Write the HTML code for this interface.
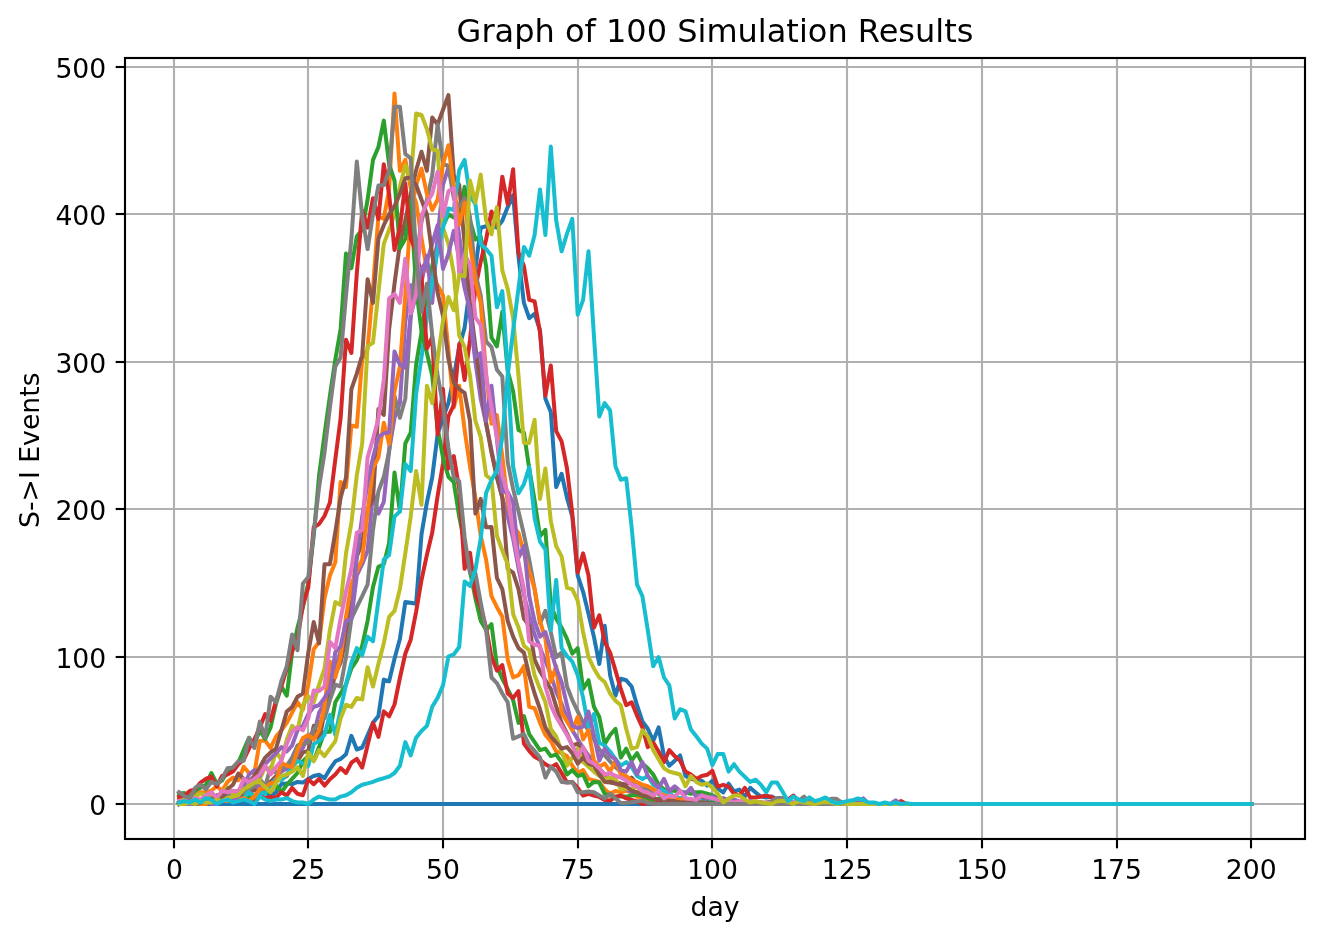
<!DOCTYPE html>
<html lang="en"><head><meta charset="utf-8"><title>Graph of 100 Simulation Results</title>
<style>html,body{margin:0;padding:0;background:#fff;}svg{display:block;}text{font-family:"DejaVu Sans", "Liberation Sans", sans-serif;fill:#000;}</style></head><body>
<svg width="1324" height="940" viewBox="0 0 1324 940">
<rect x="0" y="0" width="1324" height="940" fill="#ffffff"/>
<g stroke="#b0b0b0" stroke-width="2.13" fill="none"><line x1="174.00" y1="58.00" x2="174.00" y2="839.00"/><line x1="308.00" y1="58.00" x2="308.00" y2="839.00"/><line x1="443.00" y1="58.00" x2="443.00" y2="839.00"/><line x1="578.00" y1="58.00" x2="578.00" y2="839.00"/><line x1="712.00" y1="58.00" x2="712.00" y2="839.00"/><line x1="847.00" y1="58.00" x2="847.00" y2="839.00"/><line x1="982.00" y1="58.00" x2="982.00" y2="839.00"/><line x1="1117.00" y1="58.00" x2="1117.00" y2="839.00"/><line x1="1251.00" y1="58.00" x2="1251.00" y2="839.00"/><line x1="125.00" y1="804.00" x2="1305.00" y2="804.00"/><line x1="125.00" y1="657.00" x2="1305.00" y2="657.00"/><line x1="125.00" y1="509.00" x2="1305.00" y2="509.00"/><line x1="125.00" y1="362.00" x2="1305.00" y2="362.00"/><line x1="125.00" y1="214.00" x2="1305.00" y2="214.00"/><line x1="125.00" y1="67.00" x2="1305.00" y2="67.00"/></g>
<clipPath id="ax"><rect x="125.00" y="58.00" width="1180.00" height="781.00"/></clipPath>
<g clip-path="url(#ax)" fill="none" stroke-width="4.00" stroke-linejoin="round" stroke-linecap="square">
<polyline stroke="#1f77b4" points="179.0,804.0 184.4,801.1 189.8,802.5 195.2,802.5 200.5,802.5 205.9,798.1 211.3,799.6 216.7,801.1 222.1,804.0 227.5,798.1 232.9,801.1 238.3,795.2 243.7,796.6 249.0,799.6 254.4,796.6 259.8,792.2 265.2,792.2 270.6,796.6 276.0,792.2 281.4,784.1 286.8,783.4 292.1,784.1 297.5,781.9 302.9,782.6 308.3,778.9 313.7,776.0 319.1,774.8 324.5,778.2 329.9,769.1 335.3,761.3 340.6,758.9 346.0,754.3 351.4,735.8 356.8,749.5 362.2,747.5 367.6,735.2 373.0,722.8 378.4,715.9 383.8,679.6 389.1,681.4 394.5,658.8 399.9,638.9 405.3,602.1 410.7,602.8 416.1,603.8 421.5,534.3 426.9,502.4 432.2,477.5 437.6,434.5 443.0,417.8 448.4,403.1 453.8,376.6 459.2,347.1 464.6,327.9 470.0,285.2 475.4,269.0 480.7,227.7 486.1,226.2 491.5,225.3 496.9,227.7 502.3,220.8 507.7,207.1 513.1,195.3 518.5,256.4 523.9,302.9 529.2,318.2 534.6,313.8 540.0,330.1 545.4,398.7 550.8,411.9 556.2,487.1 561.6,473.8 567.0,497.9 572.3,516.6 577.7,575.5 583.1,591.8 588.5,613.9 593.9,636.7 599.3,664.0 604.7,625.7 610.1,675.2 615.5,695.7 620.8,678.7 626.2,680.2 631.6,686.5 637.0,705.2 642.4,721.5 647.8,728.8 653.2,741.1 658.6,727.4 664.0,756.1 669.3,765.7 674.7,760.7 680.1,755.4 685.5,776.0 690.9,778.9 696.3,780.4 701.7,780.7 707.1,785.6 712.4,780.7 717.8,788.5 723.2,792.5 728.6,783.7 734.0,791.5 739.4,789.6 744.8,796.6 750.2,787.8 755.6,792.5 760.9,796.6 766.3,797.4 771.7,796.6 777.1,799.6 782.5,801.1 787.9,801.1 793.3,802.5 798.7,802.5 804.1,802.5 809.4,804.0 814.8,804.0 820.2,804.0 825.6,804.0 831.0,802.5 836.4,804.0 841.8,804.0 847.2,804.0 852.6,804.0 857.9,802.5 863.3,804.0 868.7,804.0 874.1,804.0 879.5,804.0 884.9,804.0 890.3,804.0 895.7,804.0 901.0,804.0 906.4,804.0 911.8,804.0 917.2,804.0 922.6,804.0 928.0,804.0 933.4,804.0 938.8,804.0 944.2,804.0 949.5,804.0 954.9,804.0 960.3,804.0 965.7,804.0 971.1,804.0 976.5,804.0 981.9,804.0 987.3,804.0 992.7,804.0 998.0,804.0 1003.4,804.0 1008.8,804.0 1014.2,804.0 1019.6,804.0 1025.0,804.0 1030.4,804.0 1035.8,804.0 1041.1,804.0 1046.5,804.0 1051.9,804.0 1057.3,804.0 1062.7,804.0 1068.1,804.0 1073.5,804.0 1078.9,804.0 1084.3,804.0 1089.6,804.0 1095.0,804.0 1100.4,804.0 1105.8,804.0 1111.2,804.0 1116.6,804.0 1122.0,804.0 1127.4,804.0 1132.8,804.0 1138.1,804.0 1143.5,804.0 1148.9,804.0 1154.3,804.0 1159.7,804.0 1165.1,804.0 1170.5,804.0 1175.9,804.0 1181.2,804.0 1186.6,804.0 1192.0,804.0 1197.4,804.0 1202.8,804.0 1208.2,804.0 1213.6,804.0 1219.0,804.0 1224.4,804.0 1229.7,804.0 1235.1,804.0 1240.5,804.0 1245.9,804.0 1251.3,804.0"/>
<polyline stroke="#ff7f0e" points="179.0,802.5 184.4,799.6 189.8,796.6 195.2,795.2 200.5,792.2 205.9,792.2 211.3,790.7 216.7,786.3 222.1,790.7 227.5,781.9 232.9,777.5 238.3,780.4 243.7,766.7 249.0,773.0 254.4,773.0 259.8,741.1 265.2,740.6 270.6,748.0 276.0,736.5 281.4,730.3 286.8,722.9 292.1,712.6 297.5,702.3 302.9,709.7 308.3,684.6 313.7,649.2 319.1,641.9 324.5,598.2 329.9,575.5 335.3,562.3 340.6,482.0 346.0,487.1 351.4,425.4 356.8,426.7 362.2,359.6 367.6,348.6 373.0,288.1 378.4,216.2 383.8,218.9 389.1,189.4 394.5,93.6 399.9,170.8 405.3,159.9 410.7,187.9 416.1,202.6 421.5,238.0 426.9,270.4 432.2,276.3 437.6,285.2 443.0,295.5 448.4,350.0 453.8,407.5 459.2,385.7 464.6,429.9 470.0,466.5 475.4,497.9 480.7,535.8 486.1,559.6 491.5,596.2 496.9,607.2 502.3,616.8 507.7,659.6 513.1,677.5 518.5,675.2 523.9,666.2 529.2,706.9 534.6,708.2 540.0,722.9 545.4,735.0 550.8,741.1 556.2,751.5 561.6,753.2 567.0,756.1 572.3,765.7 577.7,773.0 583.1,770.1 588.5,778.9 593.9,780.4 599.3,781.9 604.7,789.3 610.1,793.8 615.5,790.9 620.8,792.4 626.2,790.9 631.6,792.4 637.0,796.9 642.4,798.1 647.8,799.6 653.2,801.1 658.6,801.1 664.0,802.5 669.3,802.5 674.7,804.0 680.1,802.5 685.5,802.5 690.9,802.5 696.3,804.0 701.7,802.5 707.1,802.5 712.4,802.5 717.8,802.5 723.2,804.0 728.6,804.0 734.0,804.0 739.4,804.0 744.8,804.0 750.2,804.0 755.6,804.0 760.9,804.0 766.3,804.0 771.7,804.0 777.1,804.0 782.5,804.0 787.9,804.0 793.3,804.0 798.7,804.0 804.1,804.0 809.4,804.0 814.8,804.0 820.2,804.0 825.6,804.0 831.0,804.0 836.4,804.0 841.8,804.0 847.2,804.0 852.6,804.0 857.9,804.0 863.3,804.0 868.7,804.0 874.1,804.0 879.5,804.0 884.9,804.0 890.3,804.0 895.7,804.0 901.0,804.0 906.4,804.0 911.8,804.0 917.2,804.0 922.6,804.0 928.0,804.0 933.4,804.0 938.8,804.0 944.2,804.0 949.5,804.0 954.9,804.0 960.3,804.0 965.7,804.0 971.1,804.0 976.5,804.0 981.9,804.0 987.3,804.0 992.7,804.0 998.0,804.0 1003.4,804.0 1008.8,804.0 1014.2,804.0 1019.6,804.0 1025.0,804.0 1030.4,804.0 1035.8,804.0 1041.1,804.0 1046.5,804.0 1051.9,804.0 1057.3,804.0 1062.7,804.0 1068.1,804.0 1073.5,804.0 1078.9,804.0 1084.3,804.0 1089.6,804.0 1095.0,804.0 1100.4,804.0 1105.8,804.0 1111.2,804.0 1116.6,804.0 1122.0,804.0 1127.4,804.0 1132.8,804.0 1138.1,804.0 1143.5,804.0 1148.9,804.0 1154.3,804.0 1159.7,804.0 1165.1,804.0 1170.5,804.0 1175.9,804.0 1181.2,804.0 1186.6,804.0 1192.0,804.0 1197.4,804.0 1202.8,804.0 1208.2,804.0 1213.6,804.0 1219.0,804.0 1224.4,804.0 1229.7,804.0 1235.1,804.0 1240.5,804.0 1245.9,804.0 1251.3,804.0"/>
<polyline stroke="#2ca02c" points="179.0,804.0 184.4,801.1 189.8,802.5 195.2,798.1 200.5,801.1 205.9,801.1 211.3,802.5 216.7,801.1 222.1,802.5 227.5,799.6 232.9,801.1 238.3,799.6 243.7,802.5 249.0,796.6 254.4,795.2 259.8,796.6 265.2,792.2 270.6,792.2 276.0,784.8 281.4,792.2 286.8,784.8 292.1,778.9 297.5,773.0 302.9,761.3 308.3,756.1 313.7,760.7 319.1,747.1 324.5,731.9 329.9,731.8 335.3,702.3 340.6,693.5 346.0,684.6 351.4,668.4 356.8,660.4 362.2,645.7 367.6,620.8 373.0,586.9 378.4,566.7 383.8,564.2 389.1,543.1 394.5,472.4 399.9,511.4 405.3,443.5 410.7,432.6 416.1,364.8 421.5,332.4 426.9,295.5 432.2,266.0 437.6,243.9 443.0,226.2 448.4,214.4 453.8,217.4 459.2,214.4 464.6,186.9 470.0,220.3 475.4,239.5 480.7,236.5 486.1,266.0 491.5,337.5 496.9,346.4 502.3,311.7 507.7,370.7 513.1,391.3 518.5,429.9 523.9,432.6 529.2,468.4 534.6,500.4 540.0,536.3 545.4,529.9 550.8,605.0 556.2,618.6 561.6,627.6 567.0,638.9 572.3,653.7 577.7,648.1 583.1,689.0 588.5,680.2 593.9,706.7 599.3,717.0 604.7,744.0 610.1,735.0 615.5,728.8 620.8,757.6 626.2,748.6 631.6,760.7 637.0,753.2 642.4,763.6 647.8,768.2 653.2,774.5 658.6,784.8 664.0,789.3 669.3,790.7 674.7,790.7 680.1,792.2 685.5,792.2 690.9,793.7 696.3,792.2 701.7,792.2 707.1,793.7 712.4,795.2 717.8,798.1 723.2,799.6 728.6,799.6 734.0,801.1 739.4,802.5 744.8,802.5 750.2,804.0 755.6,802.5 760.9,802.5 766.3,804.0 771.7,804.0 777.1,802.5 782.5,804.0 787.9,804.0 793.3,804.0 798.7,804.0 804.1,804.0 809.4,804.0 814.8,804.0 820.2,804.0 825.6,804.0 831.0,804.0 836.4,804.0 841.8,804.0 847.2,804.0 852.6,804.0 857.9,804.0 863.3,804.0 868.7,804.0 874.1,804.0 879.5,804.0 884.9,804.0 890.3,804.0 895.7,804.0 901.0,804.0 906.4,804.0 911.8,804.0 917.2,804.0 922.6,804.0 928.0,804.0 933.4,804.0 938.8,804.0 944.2,804.0 949.5,804.0 954.9,804.0 960.3,804.0 965.7,804.0 971.1,804.0 976.5,804.0 981.9,804.0 987.3,804.0 992.7,804.0 998.0,804.0 1003.4,804.0 1008.8,804.0 1014.2,804.0 1019.6,804.0 1025.0,804.0 1030.4,804.0 1035.8,804.0 1041.1,804.0 1046.5,804.0 1051.9,804.0 1057.3,804.0 1062.7,804.0 1068.1,804.0 1073.5,804.0 1078.9,804.0 1084.3,804.0 1089.6,804.0 1095.0,804.0 1100.4,804.0 1105.8,804.0 1111.2,804.0 1116.6,804.0 1122.0,804.0 1127.4,804.0 1132.8,804.0 1138.1,804.0 1143.5,804.0 1148.9,804.0 1154.3,804.0 1159.7,804.0 1165.1,804.0 1170.5,804.0 1175.9,804.0 1181.2,804.0 1186.6,804.0 1192.0,804.0 1197.4,804.0 1202.8,804.0 1208.2,804.0 1213.6,804.0 1219.0,804.0 1224.4,804.0 1229.7,804.0 1235.1,804.0 1240.5,804.0 1245.9,804.0 1251.3,804.0"/>
<polyline stroke="#d62728" points="179.0,804.0 184.4,804.0 189.8,802.5 195.2,804.0 200.5,802.5 205.9,802.5 211.3,804.0 216.7,802.5 222.1,802.5 227.5,802.5 232.9,801.1 238.3,802.5 243.7,799.6 249.0,802.5 254.4,799.6 259.8,793.7 265.2,798.4 270.6,796.9 276.0,797.7 281.4,792.2 286.8,795.5 292.1,787.8 297.5,793.8 302.9,795.2 308.3,779.2 313.7,784.2 319.1,778.9 324.5,785.6 329.9,779.2 335.3,774.5 340.6,768.0 346.0,773.0 351.4,762.7 356.8,758.9 362.2,767.6 367.6,745.3 373.0,722.9 378.4,736.9 383.8,711.4 389.1,716.3 394.5,704.5 399.9,678.0 405.3,653.7 410.7,639.7 416.1,611.8 421.5,580.0 426.9,554.9 432.2,532.8 437.6,496.0 443.0,463.5 448.4,416.4 453.8,405.0 459.2,344.1 464.6,380.1 470.0,339.7 475.4,288.1 480.7,261.6 486.1,239.5 491.5,211.5 496.9,224.8 502.3,176.7 507.7,204.1 513.1,169.2 518.5,252.8 523.9,266.0 529.2,299.9 534.6,301.4 540.0,332.4 545.4,395.7 550.8,365.4 556.2,431.1 561.6,441.4 567.0,468.4 572.3,513.6 577.7,572.6 583.1,553.4 588.5,575.5 593.9,627.6 599.3,615.3 604.7,641.9 610.1,652.6 615.5,670.6 620.8,689.0 626.2,705.2 631.6,702.3 637.0,715.6 642.4,727.4 647.8,747.1 653.2,742.5 658.6,751.5 664.0,762.1 669.3,750.1 674.7,756.1 680.1,760.7 685.5,771.6 690.9,774.5 696.3,778.9 701.7,776.0 707.1,774.8 712.4,770.8 717.8,786.6 723.2,784.8 728.6,786.6 734.0,793.7 739.4,795.5 744.8,787.8 750.2,797.4 755.6,797.4 760.9,796.6 766.3,795.5 771.7,797.4 777.1,799.6 782.5,799.6 787.9,799.6 793.3,795.5 798.7,801.1 804.1,801.1 809.4,802.5 814.8,802.5 820.2,802.5 825.6,804.0 831.0,802.5 836.4,804.0 841.8,804.0 847.2,804.0 852.6,804.0 857.9,804.0 863.3,804.0 868.7,804.0 874.1,804.0 879.5,804.0 884.9,804.0 890.3,804.0 895.7,804.0 901.0,801.1 906.4,804.0 911.8,804.0 917.2,804.0 922.6,804.0 928.0,804.0 933.4,804.0 938.8,804.0 944.2,804.0 949.5,804.0 954.9,804.0 960.3,804.0 965.7,804.0 971.1,804.0 976.5,804.0 981.9,804.0 987.3,804.0 992.7,804.0 998.0,804.0 1003.4,804.0 1008.8,804.0 1014.2,804.0 1019.6,804.0 1025.0,804.0 1030.4,804.0 1035.8,804.0 1041.1,804.0 1046.5,804.0 1051.9,804.0 1057.3,804.0 1062.7,804.0 1068.1,804.0 1073.5,804.0 1078.9,804.0 1084.3,804.0 1089.6,804.0 1095.0,804.0 1100.4,804.0 1105.8,804.0 1111.2,804.0 1116.6,804.0 1122.0,804.0 1127.4,804.0 1132.8,804.0 1138.1,804.0 1143.5,804.0 1148.9,804.0 1154.3,804.0 1159.7,804.0 1165.1,804.0 1170.5,804.0 1175.9,804.0 1181.2,804.0 1186.6,804.0 1192.0,804.0 1197.4,804.0 1202.8,804.0 1208.2,804.0 1213.6,804.0 1219.0,804.0 1224.4,804.0 1229.7,804.0 1235.1,804.0 1240.5,804.0 1245.9,804.0 1251.3,804.0"/>
<polyline stroke="#9467bd" points="179.0,804.0 184.4,802.5 189.8,801.1 195.2,802.5 200.5,801.1 205.9,801.1 211.3,799.6 216.7,801.1 222.1,799.6 227.5,792.2 232.9,798.1 238.3,793.7 243.7,789.3 249.0,790.7 254.4,789.3 259.8,784.8 265.2,786.3 270.6,781.9 276.0,777.5 281.4,771.6 286.8,768.6 292.1,762.7 297.5,753.9 302.9,748.0 308.3,734.7 313.7,734.7 319.1,712.6 324.5,703.8 329.9,686.1 335.3,668.4 340.6,650.7 346.0,627.1 351.4,618.6 356.8,575.5 362.2,564.2 367.6,550.5 373.0,493.0 378.4,513.6 383.8,501.9 389.1,450.3 394.5,417.8 399.9,403.1 405.3,322.0 410.7,285.2 416.1,291.1 421.5,282.2 426.9,255.7 432.2,302.9 437.6,236.5 443.0,185.0 448.4,167.3 453.8,192.3 459.2,236.5 464.6,273.4 470.0,317.6 475.4,361.8 480.7,398.7 486.1,423.7 491.5,450.3 496.9,476.8 502.3,497.4 507.7,516.6 513.1,538.7 518.5,568.2 523.9,594.7 529.2,615.3 534.6,634.5 540.0,647.8 545.4,661.0 550.8,674.3 556.2,692.0 561.6,703.8 567.0,718.5 572.3,730.3 577.7,739.1 583.1,748.0 588.5,755.4 593.9,762.7 599.3,768.6 604.7,774.5 610.1,778.9 615.5,783.4 620.8,786.3 626.2,789.3 631.6,792.2 637.0,793.7 642.4,795.2 647.8,796.6 653.2,798.1 658.6,799.6 664.0,799.6 669.3,801.1 674.7,801.1 680.1,802.5 685.5,802.5 690.9,804.0 696.3,802.5 701.7,802.5 707.1,802.5 712.4,802.5 717.8,802.5 723.2,804.0 728.6,804.0 734.0,804.0 739.4,804.0 744.8,804.0 750.2,804.0 755.6,804.0 760.9,802.5 766.3,804.0 771.7,804.0 777.1,804.0 782.5,804.0 787.9,804.0 793.3,804.0 798.7,804.0 804.1,804.0 809.4,804.0 814.8,804.0 820.2,804.0 825.6,804.0 831.0,804.0 836.4,804.0 841.8,804.0 847.2,804.0 852.6,804.0 857.9,804.0 863.3,804.0 868.7,804.0 874.1,804.0 879.5,804.0 884.9,804.0 890.3,804.0 895.7,804.0 901.0,804.0 906.4,804.0 911.8,804.0 917.2,804.0 922.6,804.0 928.0,804.0 933.4,804.0 938.8,804.0 944.2,804.0 949.5,804.0 954.9,804.0 960.3,804.0 965.7,804.0 971.1,804.0 976.5,804.0 981.9,804.0 987.3,804.0 992.7,804.0 998.0,804.0 1003.4,804.0 1008.8,804.0 1014.2,804.0 1019.6,804.0 1025.0,804.0 1030.4,804.0 1035.8,804.0 1041.1,804.0 1046.5,804.0 1051.9,804.0 1057.3,804.0 1062.7,804.0 1068.1,804.0 1073.5,804.0 1078.9,804.0 1084.3,804.0 1089.6,804.0 1095.0,804.0 1100.4,804.0 1105.8,804.0 1111.2,804.0 1116.6,804.0 1122.0,804.0 1127.4,804.0 1132.8,804.0 1138.1,804.0 1143.5,804.0 1148.9,804.0 1154.3,804.0 1159.7,804.0 1165.1,804.0 1170.5,804.0 1175.9,804.0 1181.2,804.0 1186.6,804.0 1192.0,804.0 1197.4,804.0 1202.8,804.0 1208.2,804.0 1213.6,804.0 1219.0,804.0 1224.4,804.0 1229.7,804.0 1235.1,804.0 1240.5,804.0 1245.9,804.0 1251.3,804.0"/>
<polyline stroke="#8c564b" points="179.0,804.0 184.4,801.1 189.8,802.5 195.2,801.1 200.5,804.0 205.9,804.0 211.3,802.5 216.7,799.6 222.1,799.6 227.5,796.6 232.9,799.6 238.3,793.7 243.7,795.2 249.0,793.7 254.4,789.3 259.8,795.2 265.2,786.3 270.6,781.9 276.0,776.0 281.4,778.9 286.8,776.0 292.1,765.7 297.5,761.3 302.9,752.4 308.3,750.9 313.7,725.9 319.1,740.6 324.5,712.6 329.9,694.9 335.3,674.3 340.6,662.5 346.0,637.4 351.4,597.7 356.8,556.4 362.2,543.1 367.6,509.2 373.0,498.9 378.4,409.0 383.8,414.9 389.1,329.4 394.5,283.7 399.9,243.9 405.3,220.3 410.7,193.8 416.1,170.2 421.5,151.7 426.9,170.8 432.2,117.6 437.6,124.5 443.0,109.8 448.4,95.1 453.8,175.4 459.2,185.0 464.6,243.9 470.0,302.9 475.4,347.1 480.7,383.9 486.1,423.1 491.5,452.6 496.9,477.5 502.3,497.4 507.7,568.8 513.1,572.6 518.5,589.1 523.9,618.6 529.2,625.7 534.6,659.6 540.0,671.3 545.4,680.2 550.8,689.0 556.2,706.7 561.6,722.9 567.0,733.3 572.3,745.5 577.7,743.6 583.1,753.9 588.5,759.8 593.9,764.2 599.3,771.6 604.7,777.5 610.1,780.4 615.5,781.9 620.8,783.4 626.2,784.8 631.6,777.5 637.0,784.8 642.4,792.2 647.8,796.6 653.2,798.1 658.6,799.6 664.0,798.1 669.3,799.6 674.7,800.3 680.1,801.1 685.5,799.6 690.9,800.3 696.3,801.1 701.7,799.6 707.1,798.8 712.4,801.1 717.8,802.5 723.2,804.0 728.6,804.0 734.0,802.5 739.4,802.5 744.8,804.0 750.2,802.5 755.6,804.0 760.9,804.0 766.3,804.0 771.7,802.5 777.1,804.0 782.5,804.0 787.9,804.0 793.3,804.0 798.7,804.0 804.1,804.0 809.4,804.0 814.8,804.0 820.2,804.0 825.6,804.0 831.0,804.0 836.4,804.0 841.8,804.0 847.2,804.0 852.6,804.0 857.9,804.0 863.3,804.0 868.7,804.0 874.1,804.0 879.5,804.0 884.9,804.0 890.3,804.0 895.7,804.0 901.0,804.0 906.4,804.0 911.8,804.0 917.2,804.0 922.6,804.0 928.0,804.0 933.4,804.0 938.8,804.0 944.2,804.0 949.5,804.0 954.9,804.0 960.3,804.0 965.7,804.0 971.1,804.0 976.5,804.0 981.9,804.0 987.3,804.0 992.7,804.0 998.0,804.0 1003.4,804.0 1008.8,804.0 1014.2,804.0 1019.6,804.0 1025.0,804.0 1030.4,804.0 1035.8,804.0 1041.1,804.0 1046.5,804.0 1051.9,804.0 1057.3,804.0 1062.7,804.0 1068.1,804.0 1073.5,804.0 1078.9,804.0 1084.3,804.0 1089.6,804.0 1095.0,804.0 1100.4,804.0 1105.8,804.0 1111.2,804.0 1116.6,804.0 1122.0,804.0 1127.4,804.0 1132.8,804.0 1138.1,804.0 1143.5,804.0 1148.9,804.0 1154.3,804.0 1159.7,804.0 1165.1,804.0 1170.5,804.0 1175.9,804.0 1181.2,804.0 1186.6,804.0 1192.0,804.0 1197.4,804.0 1202.8,804.0 1208.2,804.0 1213.6,804.0 1219.0,804.0 1224.4,804.0 1229.7,804.0 1235.1,804.0 1240.5,804.0 1245.9,804.0 1251.3,804.0"/>
<polyline stroke="#7f7f7f" points="179.0,801.1 184.4,802.5 189.8,801.1 195.2,802.5 200.5,801.1 205.9,795.2 211.3,796.6 216.7,799.6 222.1,798.1 227.5,796.6 232.9,792.2 238.3,790.7 243.7,792.2 249.0,789.3 254.4,786.3 259.8,778.9 265.2,786.3 270.6,767.2 276.0,773.0 281.4,768.6 286.8,765.7 292.1,757.6 297.5,745.5 302.9,744.0 308.3,742.5 313.7,729.6 319.1,722.9 324.5,718.5 329.9,700.1 335.3,684.6 340.6,686.5 346.0,657.1 351.4,618.6 356.8,607.2 362.2,596.2 367.6,584.5 373.0,529.9 378.4,491.5 383.8,476.8 389.1,451.7 394.5,395.7 399.9,417.8 405.3,398.7 410.7,317.6 416.1,258.7 421.5,221.8 426.9,199.7 432.2,175.4 437.6,124.5 443.0,164.3 448.4,165.8 453.8,198.2 459.2,207.1 464.6,198.2 470.0,217.4 475.4,273.4 480.7,295.5 486.1,341.5 491.5,347.1 496.9,369.8 502.3,376.6 507.7,462.1 513.1,488.9 518.5,511.4 523.9,534.3 529.2,559.6 534.6,589.1 540.0,623.2 545.4,610.9 550.8,632.1 556.2,657.1 561.6,652.6 567.0,686.5 572.3,700.1 577.7,711.4 583.1,722.9 588.5,730.3 593.9,739.1 599.3,749.5 604.7,755.4 610.1,761.3 615.5,767.2 620.8,771.6 626.2,777.5 631.6,780.4 637.0,784.8 642.4,787.8 647.8,789.3 653.2,792.2 658.6,793.7 664.0,796.6 669.3,796.6 674.7,798.1 680.1,799.6 685.5,799.6 690.9,801.1 696.3,801.1 701.7,802.5 707.1,801.1 712.4,802.5 717.8,802.5 723.2,804.0 728.6,802.5 734.0,804.0 739.4,804.0 744.8,802.5 750.2,804.0 755.6,804.0 760.9,804.0 766.3,802.5 771.7,801.1 777.1,798.1 782.5,798.1 787.9,802.5 793.3,804.0 798.7,801.1 804.1,796.6 809.4,802.5 814.8,804.0 820.2,804.0 825.6,802.5 831.0,798.8 836.4,798.8 841.8,802.5 847.2,804.0 852.6,804.0 857.9,804.0 863.3,804.0 868.7,804.0 874.1,804.0 879.5,804.0 884.9,804.0 890.3,804.0 895.7,804.0 901.0,804.0 906.4,804.0 911.8,804.0 917.2,804.0 922.6,804.0 928.0,804.0 933.4,804.0 938.8,804.0 944.2,804.0 949.5,804.0 954.9,804.0 960.3,804.0 965.7,804.0 971.1,804.0 976.5,804.0 981.9,804.0 987.3,804.0 992.7,804.0 998.0,804.0 1003.4,804.0 1008.8,804.0 1014.2,804.0 1019.6,804.0 1025.0,804.0 1030.4,804.0 1035.8,804.0 1041.1,804.0 1046.5,804.0 1051.9,804.0 1057.3,804.0 1062.7,804.0 1068.1,804.0 1073.5,804.0 1078.9,804.0 1084.3,804.0 1089.6,804.0 1095.0,804.0 1100.4,804.0 1105.8,804.0 1111.2,804.0 1116.6,804.0 1122.0,804.0 1127.4,804.0 1132.8,804.0 1138.1,804.0 1143.5,804.0 1148.9,804.0 1154.3,804.0 1159.7,804.0 1165.1,804.0 1170.5,804.0 1175.9,804.0 1181.2,804.0 1186.6,804.0 1192.0,804.0 1197.4,804.0 1202.8,804.0 1208.2,804.0 1213.6,804.0 1219.0,804.0 1224.4,804.0 1229.7,804.0 1235.1,804.0 1240.5,804.0 1245.9,804.0 1251.3,804.0"/>
<polyline stroke="#bcbd22" points="179.0,799.6 184.4,798.1 189.8,799.6 195.2,796.6 200.5,793.7 205.9,795.2 211.3,793.7 216.7,799.6 222.1,792.2 227.5,787.8 232.9,793.7 238.3,792.2 243.7,784.8 249.0,786.3 254.4,780.4 259.8,778.9 265.2,767.2 270.6,770.1 276.0,751.5 281.4,759.8 286.8,739.4 292.1,725.9 297.5,730.3 302.9,705.2 308.3,696.4 313.7,702.3 319.1,684.6 324.5,668.4 329.9,630.1 335.3,602.1 340.6,605.0 346.0,553.4 351.4,522.8 356.8,475.3 362.2,443.5 367.6,346.1 373.0,342.7 378.4,292.6 383.8,243.9 389.1,229.8 394.5,214.4 399.9,186.7 405.3,165.2 410.7,180.0 416.1,113.5 421.5,115.0 426.9,129.0 432.2,149.6 437.6,150.5 443.0,227.7 448.4,243.9 453.8,273.4 459.2,335.3 464.6,347.1 470.0,375.5 475.4,420.8 480.7,437.0 486.1,475.3 491.5,479.7 496.9,535.8 502.3,550.5 507.7,564.2 513.1,613.9 518.5,627.6 523.9,645.7 529.2,650.3 534.6,675.2 540.0,689.0 545.4,702.3 550.8,728.8 556.2,736.5 561.6,751.5 567.0,765.7 572.3,757.6 577.7,748.6 583.1,762.1 588.5,766.7 593.9,771.6 599.3,776.0 604.7,778.9 610.1,777.5 615.5,778.9 620.8,789.3 626.2,788.5 631.6,789.3 637.0,786.3 642.4,792.4 647.8,796.9 653.2,798.1 658.6,799.6 664.0,801.1 669.3,801.1 674.7,802.5 680.1,804.0 685.5,804.0 690.9,804.0 696.3,802.5 701.7,802.5 707.1,804.0 712.4,804.0 717.8,804.0 723.2,802.5 728.6,804.0 734.0,804.0 739.4,804.0 744.8,802.5 750.2,802.5 755.6,804.0 760.9,804.0 766.3,804.0 771.7,804.0 777.1,804.0 782.5,804.0 787.9,804.0 793.3,804.0 798.7,804.0 804.1,804.0 809.4,804.0 814.8,804.0 820.2,804.0 825.6,804.0 831.0,804.0 836.4,804.0 841.8,804.0 847.2,804.0 852.6,804.0 857.9,804.0 863.3,804.0 868.7,804.0 874.1,804.0 879.5,804.0 884.9,804.0 890.3,804.0 895.7,804.0 901.0,804.0 906.4,804.0 911.8,804.0 917.2,804.0 922.6,804.0 928.0,804.0 933.4,804.0 938.8,804.0 944.2,804.0 949.5,804.0 954.9,804.0 960.3,804.0 965.7,804.0 971.1,804.0 976.5,804.0 981.9,804.0 987.3,804.0 992.7,804.0 998.0,804.0 1003.4,804.0 1008.8,804.0 1014.2,804.0 1019.6,804.0 1025.0,804.0 1030.4,804.0 1035.8,804.0 1041.1,804.0 1046.5,804.0 1051.9,804.0 1057.3,804.0 1062.7,804.0 1068.1,804.0 1073.5,804.0 1078.9,804.0 1084.3,804.0 1089.6,804.0 1095.0,804.0 1100.4,804.0 1105.8,804.0 1111.2,804.0 1116.6,804.0 1122.0,804.0 1127.4,804.0 1132.8,804.0 1138.1,804.0 1143.5,804.0 1148.9,804.0 1154.3,804.0 1159.7,804.0 1165.1,804.0 1170.5,804.0 1175.9,804.0 1181.2,804.0 1186.6,804.0 1192.0,804.0 1197.4,804.0 1202.8,804.0 1208.2,804.0 1213.6,804.0 1219.0,804.0 1224.4,804.0 1229.7,804.0 1235.1,804.0 1240.5,804.0 1245.9,804.0 1251.3,804.0"/>
<polyline stroke="#17becf" points="179.0,804.0 184.4,804.0 189.8,804.0 195.2,801.1 200.5,801.1 205.9,801.1 211.3,802.5 216.7,802.5 222.1,799.6 227.5,799.6 232.9,801.1 238.3,802.5 243.7,798.1 249.0,792.2 254.4,796.9 259.8,792.2 265.2,793.7 270.6,784.8 276.0,778.9 281.4,780.4 286.8,774.5 292.1,767.2 297.5,760.7 302.9,763.6 308.3,765.7 313.7,744.0 319.1,741.1 324.5,734.7 329.9,714.8 335.3,734.7 340.6,709.7 346.0,684.6 351.4,662.8 356.8,648.1 362.2,655.1 367.6,636.7 373.0,641.3 378.4,600.6 383.8,559.6 389.1,554.9 394.5,516.6 399.9,511.4 405.3,464.0 410.7,470.9 416.1,394.3 421.5,357.4 426.9,317.6 432.2,280.8 437.6,251.3 443.0,227.7 448.4,208.5 453.8,210.0 459.2,170.2 464.6,159.9 470.0,195.9 475.4,204.1 480.7,243.9 486.1,249.1 491.5,255.7 496.9,307.3 502.3,291.1 507.7,369.2 513.1,466.5 518.5,493.3 523.9,484.2 529.2,467.2 534.6,518.1 540.0,541.6 545.4,549.5 550.8,630.1 556.2,580.0 561.6,648.1 567.0,656.0 572.3,661.6 577.7,675.2 583.1,697.9 588.5,727.4 593.9,714.1 599.3,742.5 604.7,745.5 610.1,751.5 615.5,759.2 620.8,765.7 626.2,762.1 631.6,766.7 637.0,776.0 642.4,778.9 647.8,776.0 653.2,784.8 658.6,787.8 664.0,790.9 669.3,793.8 674.7,796.6 680.1,798.1 685.5,798.1 690.9,799.6 696.3,801.1 701.7,801.1 707.1,802.5 712.4,802.5 717.8,804.0 723.2,804.0 728.6,801.1 734.0,802.5 739.4,802.5 744.8,802.5 750.2,804.0 755.6,802.5 760.9,804.0 766.3,804.0 771.7,804.0 777.1,804.0 782.5,804.0 787.9,804.0 793.3,804.0 798.7,804.0 804.1,804.0 809.4,804.0 814.8,804.0 820.2,804.0 825.6,804.0 831.0,804.0 836.4,804.0 841.8,804.0 847.2,804.0 852.6,804.0 857.9,804.0 863.3,804.0 868.7,804.0 874.1,804.0 879.5,804.0 884.9,804.0 890.3,804.0 895.7,804.0 901.0,804.0 906.4,804.0 911.8,804.0 917.2,804.0 922.6,804.0 928.0,804.0 933.4,804.0 938.8,804.0 944.2,804.0 949.5,804.0 954.9,804.0 960.3,804.0 965.7,804.0 971.1,804.0 976.5,804.0 981.9,804.0 987.3,804.0 992.7,804.0 998.0,804.0 1003.4,804.0 1008.8,804.0 1014.2,804.0 1019.6,804.0 1025.0,804.0 1030.4,804.0 1035.8,804.0 1041.1,804.0 1046.5,804.0 1051.9,804.0 1057.3,804.0 1062.7,804.0 1068.1,804.0 1073.5,804.0 1078.9,804.0 1084.3,804.0 1089.6,804.0 1095.0,804.0 1100.4,804.0 1105.8,804.0 1111.2,804.0 1116.6,804.0 1122.0,804.0 1127.4,804.0 1132.8,804.0 1138.1,804.0 1143.5,804.0 1148.9,804.0 1154.3,804.0 1159.7,804.0 1165.1,804.0 1170.5,804.0 1175.9,804.0 1181.2,804.0 1186.6,804.0 1192.0,804.0 1197.4,804.0 1202.8,804.0 1208.2,804.0 1213.6,804.0 1219.0,804.0 1224.4,804.0 1229.7,804.0 1235.1,804.0 1240.5,804.0 1245.9,804.0 1251.3,804.0"/>
<polyline stroke="#1f77b4" points="179.0,804.0 184.4,804.0 189.8,804.0 195.2,804.0 200.5,804.0 205.9,804.0 211.3,804.0 216.7,804.0 222.1,804.0 227.5,804.0 232.9,804.0 238.3,804.0 243.7,804.0 249.0,804.0 254.4,804.0 259.8,804.0 265.2,804.0 270.6,804.0 276.0,804.0 281.4,804.0 286.8,804.0 292.1,804.0 297.5,804.0 302.9,804.0 308.3,804.0 313.7,804.0 319.1,804.0 324.5,804.0 329.9,804.0 335.3,804.0 340.6,804.0 346.0,804.0 351.4,804.0 356.8,804.0 362.2,804.0 367.6,804.0 373.0,804.0 378.4,804.0 383.8,804.0 389.1,804.0 394.5,804.0 399.9,804.0 405.3,804.0 410.7,804.0 416.1,804.0 421.5,804.0 426.9,804.0 432.2,804.0 437.6,804.0 443.0,804.0 448.4,804.0 453.8,804.0 459.2,804.0 464.6,804.0 470.0,804.0 475.4,804.0 480.7,804.0 486.1,804.0 491.5,804.0 496.9,804.0 502.3,804.0 507.7,804.0 513.1,804.0 518.5,804.0 523.9,804.0 529.2,804.0 534.6,804.0 540.0,804.0 545.4,804.0 550.8,804.0 556.2,804.0 561.6,804.0 567.0,804.0 572.3,804.0 577.7,804.0 583.1,804.0 588.5,804.0 593.9,804.0 599.3,804.0 604.7,804.0 610.1,804.0 615.5,804.0 620.8,804.0 626.2,804.0 631.6,804.0 637.0,804.0 642.4,804.0 647.8,804.0 653.2,804.0 658.6,804.0 664.0,804.0 669.3,804.0 674.7,804.0 680.1,804.0 685.5,804.0 690.9,804.0 696.3,804.0 701.7,804.0 707.1,804.0 712.4,804.0 717.8,804.0 723.2,804.0 728.6,804.0 734.0,804.0 739.4,804.0 744.8,804.0 750.2,804.0 755.6,804.0 760.9,804.0 766.3,804.0 771.7,804.0 777.1,804.0 782.5,804.0 787.9,804.0 793.3,804.0 798.7,804.0 804.1,804.0 809.4,804.0 814.8,804.0 820.2,804.0 825.6,804.0 831.0,804.0 836.4,804.0 841.8,804.0 847.2,804.0 852.6,804.0 857.9,804.0 863.3,804.0 868.7,804.0 874.1,804.0 879.5,804.0 884.9,804.0 890.3,804.0 895.7,804.0 901.0,804.0 906.4,804.0 911.8,804.0 917.2,804.0 922.6,804.0 928.0,804.0 933.4,804.0 938.8,804.0 944.2,804.0 949.5,804.0 954.9,804.0 960.3,804.0 965.7,804.0 971.1,804.0 976.5,804.0 981.9,804.0 987.3,804.0 992.7,804.0 998.0,804.0 1003.4,804.0 1008.8,804.0 1014.2,804.0 1019.6,804.0 1025.0,804.0 1030.4,804.0 1035.8,804.0 1041.1,804.0 1046.5,804.0 1051.9,804.0 1057.3,804.0 1062.7,804.0 1068.1,804.0 1073.5,804.0 1078.9,804.0 1084.3,804.0 1089.6,804.0 1095.0,804.0 1100.4,804.0 1105.8,804.0 1111.2,804.0 1116.6,804.0 1122.0,804.0 1127.4,804.0 1132.8,804.0 1138.1,804.0 1143.5,804.0 1148.9,804.0 1154.3,804.0 1159.7,804.0 1165.1,804.0 1170.5,804.0 1175.9,804.0 1181.2,804.0 1186.6,804.0 1192.0,804.0 1197.4,804.0 1202.8,804.0 1208.2,804.0 1213.6,804.0 1219.0,804.0 1224.4,804.0 1229.7,804.0 1235.1,804.0 1240.5,804.0 1245.9,804.0 1251.3,804.0"/>
<polyline stroke="#ff7f0e" points="179.0,801.1 184.4,802.5 189.8,804.0 195.2,802.5 200.5,804.0 205.9,804.0 211.3,801.1 216.7,801.1 222.1,801.1 227.5,801.1 232.9,796.6 238.3,799.6 243.7,798.1 249.0,801.1 254.4,796.6 259.8,789.3 265.2,787.8 270.6,783.4 276.0,781.9 281.4,762.7 286.8,765.7 292.1,767.2 297.5,750.1 302.9,738.0 308.3,735.0 313.7,739.4 319.1,730.3 324.5,706.7 329.9,661.6 335.3,677.5 340.6,657.1 346.0,616.8 351.4,584.4 356.8,571.1 362.2,559.6 367.6,512.2 373.0,468.0 378.4,457.6 383.8,422.8 389.1,443.9 394.5,391.3 399.9,366.4 405.3,295.5 410.7,214.4 416.1,185.0 421.5,168.7 426.9,193.8 432.2,210.0 437.6,199.7 443.0,164.3 448.4,145.2 453.8,186.7 459.2,224.8 464.6,202.6 470.0,243.9 475.4,280.8 480.7,302.9 486.1,373.6 491.5,423.7 496.9,415.2 502.3,456.2 507.7,502.4 513.1,526.9 518.5,532.8 523.9,553.4 529.2,571.1 534.6,588.8 540.0,621.2 545.4,638.9 550.8,682.0 556.2,666.2 561.6,712.6 567.0,721.5 572.3,730.3 577.7,717.0 583.1,739.4 588.5,730.3 593.9,760.7 599.3,766.7 604.7,763.6 610.1,771.6 615.5,760.7 620.8,774.5 626.2,776.0 631.6,780.4 637.0,781.9 642.4,784.8 647.8,786.3 653.2,789.3 658.6,792.4 664.0,795.2 669.3,796.6 674.7,798.1 680.1,799.6 685.5,799.6 690.9,801.1 696.3,802.5 701.7,802.5 707.1,804.0 712.4,804.0 717.8,802.5 723.2,804.0 728.6,802.5 734.0,804.0 739.4,804.0 744.8,804.0 750.2,804.0 755.6,804.0 760.9,804.0 766.3,804.0 771.7,804.0 777.1,804.0 782.5,804.0 787.9,804.0 793.3,804.0 798.7,804.0 804.1,804.0 809.4,804.0 814.8,804.0 820.2,804.0 825.6,804.0 831.0,804.0 836.4,804.0 841.8,804.0 847.2,804.0 852.6,804.0 857.9,804.0 863.3,804.0 868.7,804.0 874.1,804.0 879.5,804.0 884.9,804.0 890.3,804.0 895.7,804.0 901.0,804.0 906.4,804.0 911.8,804.0 917.2,804.0 922.6,804.0 928.0,804.0 933.4,804.0 938.8,804.0 944.2,804.0 949.5,804.0 954.9,804.0 960.3,804.0 965.7,804.0 971.1,804.0 976.5,804.0 981.9,804.0 987.3,804.0 992.7,804.0 998.0,804.0 1003.4,804.0 1008.8,804.0 1014.2,804.0 1019.6,804.0 1025.0,804.0 1030.4,804.0 1035.8,804.0 1041.1,804.0 1046.5,804.0 1051.9,804.0 1057.3,804.0 1062.7,804.0 1068.1,804.0 1073.5,804.0 1078.9,804.0 1084.3,804.0 1089.6,804.0 1095.0,804.0 1100.4,804.0 1105.8,804.0 1111.2,804.0 1116.6,804.0 1122.0,804.0 1127.4,804.0 1132.8,804.0 1138.1,804.0 1143.5,804.0 1148.9,804.0 1154.3,804.0 1159.7,804.0 1165.1,804.0 1170.5,804.0 1175.9,804.0 1181.2,804.0 1186.6,804.0 1192.0,804.0 1197.4,804.0 1202.8,804.0 1208.2,804.0 1213.6,804.0 1219.0,804.0 1224.4,804.0 1229.7,804.0 1235.1,804.0 1240.5,804.0 1245.9,804.0 1251.3,804.0"/>
<polyline stroke="#2ca02c" points="179.0,793.7 184.4,793.1 189.8,796.6 195.2,790.7 200.5,787.8 205.9,784.8 211.3,773.0 216.7,783.4 222.1,780.4 227.5,771.6 232.9,768.6 238.3,762.7 243.7,750.1 249.0,737.7 254.4,744.0 259.8,730.3 265.2,739.1 270.6,727.4 276.0,703.8 281.4,686.5 286.8,695.7 292.1,652.6 297.5,627.6 302.9,607.2 308.3,582.9 313.7,535.8 319.1,475.3 324.5,434.5 329.9,395.7 335.3,359.6 340.6,329.4 346.0,253.5 351.4,268.2 356.8,236.5 362.2,229.8 367.6,199.7 373.0,159.9 378.4,147.1 383.8,120.6 389.1,164.3 394.5,180.5 399.9,248.3 405.3,238.8 410.7,200.3 416.1,288.1 421.5,330.9 426.9,353.0 432.2,375.5 437.6,428.2 443.0,457.6 448.4,476.8 453.8,482.2 459.2,516.6 464.6,543.1 470.0,571.1 475.4,598.2 480.7,620.8 486.1,630.1 491.5,624.2 496.9,666.2 502.3,678.7 507.7,689.0 513.1,700.1 518.5,722.9 523.9,716.0 529.2,734.1 534.6,742.1 540.0,750.1 545.4,748.6 550.8,756.1 556.2,754.6 561.6,762.1 567.0,774.5 572.3,770.1 577.7,776.0 583.1,774.5 588.5,786.3 593.9,781.9 599.3,782.6 604.7,793.8 610.1,795.5 615.5,796.6 620.8,796.6 626.2,796.6 631.6,795.5 637.0,794.6 642.4,796.2 647.8,798.4 653.2,799.9 658.6,798.4 664.0,801.1 669.3,801.1 674.7,802.5 680.1,802.5 685.5,804.0 690.9,802.5 696.3,804.0 701.7,802.5 707.1,804.0 712.4,802.5 717.8,804.0 723.2,804.0 728.6,802.5 734.0,804.0 739.4,802.5 744.8,804.0 750.2,804.0 755.6,804.0 760.9,804.0 766.3,804.0 771.7,804.0 777.1,804.0 782.5,804.0 787.9,804.0 793.3,804.0 798.7,804.0 804.1,804.0 809.4,804.0 814.8,804.0 820.2,804.0 825.6,804.0 831.0,804.0 836.4,804.0 841.8,804.0 847.2,804.0 852.6,804.0 857.9,804.0 863.3,804.0 868.7,804.0 874.1,804.0 879.5,804.0 884.9,804.0 890.3,804.0 895.7,804.0 901.0,804.0 906.4,804.0 911.8,804.0 917.2,804.0 922.6,804.0 928.0,804.0 933.4,804.0 938.8,804.0 944.2,804.0 949.5,804.0 954.9,804.0 960.3,804.0 965.7,804.0 971.1,804.0 976.5,804.0 981.9,804.0 987.3,804.0 992.7,804.0 998.0,804.0 1003.4,804.0 1008.8,804.0 1014.2,804.0 1019.6,804.0 1025.0,804.0 1030.4,804.0 1035.8,804.0 1041.1,804.0 1046.5,804.0 1051.9,804.0 1057.3,804.0 1062.7,804.0 1068.1,804.0 1073.5,804.0 1078.9,804.0 1084.3,804.0 1089.6,804.0 1095.0,804.0 1100.4,804.0 1105.8,804.0 1111.2,804.0 1116.6,804.0 1122.0,804.0 1127.4,804.0 1132.8,804.0 1138.1,804.0 1143.5,804.0 1148.9,804.0 1154.3,804.0 1159.7,804.0 1165.1,804.0 1170.5,804.0 1175.9,804.0 1181.2,804.0 1186.6,804.0 1192.0,804.0 1197.4,804.0 1202.8,804.0 1208.2,804.0 1213.6,804.0 1219.0,804.0 1224.4,804.0 1229.7,804.0 1235.1,804.0 1240.5,804.0 1245.9,804.0 1251.3,804.0"/>
<polyline stroke="#d62728" points="179.0,796.9 184.4,795.5 189.8,790.9 195.2,789.3 200.5,782.6 205.9,778.9 211.3,776.6 216.7,786.3 222.1,776.0 227.5,774.5 232.9,771.6 238.3,764.2 243.7,759.8 249.0,748.6 254.4,739.4 259.8,727.4 265.2,714.1 270.6,720.6 276.0,700.8 281.4,686.1 286.8,668.4 292.1,650.7 297.5,638.9 302.9,605.0 308.3,587.3 313.7,527.3 319.1,524.0 324.5,516.0 329.9,502.4 335.3,459.4 340.6,418.6 346.0,339.7 351.4,353.0 356.8,273.4 362.2,210.5 367.6,227.7 373.0,198.2 378.4,218.9 383.8,164.3 389.1,193.8 394.5,250.1 399.9,227.7 405.3,183.5 410.7,238.8 416.1,251.3 421.5,276.3 426.9,348.6 432.2,337.1 437.6,434.5 443.0,389.1 448.4,468.4 453.8,456.2 459.2,488.9 464.6,568.8 470.0,552.8 475.4,593.7 480.7,607.2 486.1,627.6 491.5,657.1 496.9,670.6 502.3,665.0 507.7,693.5 513.1,697.9 518.5,691.1 523.9,743.6 529.2,750.9 534.6,756.8 540.0,759.8 545.4,764.2 550.8,767.2 556.2,764.2 561.6,773.0 567.0,782.6 572.3,781.9 577.7,787.8 583.1,795.5 588.5,793.8 593.9,795.5 599.3,796.9 604.7,799.9 610.1,800.6 615.5,796.9 620.8,795.5 626.2,798.4 631.6,799.9 637.0,801.5 642.4,804.0 647.8,803.0 653.2,804.0 658.6,802.5 664.0,804.0 669.3,802.5 674.7,804.0 680.1,804.0 685.5,802.5 690.9,804.0 696.3,802.5 701.7,804.0 707.1,804.0 712.4,804.0 717.8,804.0 723.2,804.0 728.6,804.0 734.0,804.0 739.4,804.0 744.8,804.0 750.2,804.0 755.6,804.0 760.9,804.0 766.3,804.0 771.7,804.0 777.1,804.0 782.5,804.0 787.9,804.0 793.3,804.0 798.7,804.0 804.1,804.0 809.4,804.0 814.8,804.0 820.2,804.0 825.6,804.0 831.0,804.0 836.4,804.0 841.8,804.0 847.2,804.0 852.6,804.0 857.9,804.0 863.3,804.0 868.7,804.0 874.1,804.0 879.5,804.0 884.9,804.0 890.3,804.0 895.7,804.0 901.0,804.0 906.4,804.0 911.8,804.0 917.2,804.0 922.6,804.0 928.0,804.0 933.4,804.0 938.8,804.0 944.2,804.0 949.5,804.0 954.9,804.0 960.3,804.0 965.7,804.0 971.1,804.0 976.5,804.0 981.9,804.0 987.3,804.0 992.7,804.0 998.0,804.0 1003.4,804.0 1008.8,804.0 1014.2,804.0 1019.6,804.0 1025.0,804.0 1030.4,804.0 1035.8,804.0 1041.1,804.0 1046.5,804.0 1051.9,804.0 1057.3,804.0 1062.7,804.0 1068.1,804.0 1073.5,804.0 1078.9,804.0 1084.3,804.0 1089.6,804.0 1095.0,804.0 1100.4,804.0 1105.8,804.0 1111.2,804.0 1116.6,804.0 1122.0,804.0 1127.4,804.0 1132.8,804.0 1138.1,804.0 1143.5,804.0 1148.9,804.0 1154.3,804.0 1159.7,804.0 1165.1,804.0 1170.5,804.0 1175.9,804.0 1181.2,804.0 1186.6,804.0 1192.0,804.0 1197.4,804.0 1202.8,804.0 1208.2,804.0 1213.6,804.0 1219.0,804.0 1224.4,804.0 1229.7,804.0 1235.1,804.0 1240.5,804.0 1245.9,804.0 1251.3,804.0"/>
<polyline stroke="#9467bd" points="179.0,802.5 184.4,804.0 189.8,804.0 195.2,801.1 200.5,802.5 205.9,799.6 211.3,804.0 216.7,804.0 222.1,801.1 227.5,799.6 232.9,799.6 238.3,796.6 243.7,786.3 249.0,774.5 254.4,770.1 259.8,776.0 265.2,764.2 270.6,758.3 276.0,753.2 281.4,747.1 286.8,751.5 292.1,745.5 297.5,730.3 302.9,725.9 308.3,714.1 313.7,706.7 319.1,705.2 324.5,697.9 329.9,689.0 335.3,652.2 340.6,646.3 346.0,621.2 351.4,618.3 356.8,556.4 362.2,516.6 367.6,482.7 373.0,457.6 378.4,437.0 383.8,433.3 389.1,432.6 394.5,351.5 399.9,364.8 405.3,367.7 410.7,314.7 416.1,295.5 421.5,268.2 426.9,261.6 432.2,243.9 437.6,225.2 443.0,269.0 448.4,254.2 453.8,230.7 459.2,258.7 464.6,288.1 470.0,310.2 475.4,357.4 480.7,353.0 486.1,420.8 491.5,385.7 496.9,438.9 502.3,491.5 507.7,492.3 513.1,502.4 518.5,557.9 523.9,546.1 529.2,596.2 534.6,621.2 540.0,636.7 545.4,632.1 550.8,650.3 556.2,668.4 561.6,682.0 567.0,705.2 572.3,725.9 577.7,728.1 583.1,726.6 588.5,711.6 593.9,735.0 599.3,760.7 604.7,748.6 610.1,756.1 615.5,759.2 620.8,770.1 626.2,771.6 631.6,762.1 637.0,774.5 642.4,762.1 647.8,776.0 653.2,781.9 658.6,787.8 664.0,778.9 669.3,790.9 674.7,786.3 680.1,790.9 685.5,793.8 690.9,787.8 696.3,796.9 701.7,795.2 707.1,798.1 712.4,796.6 717.8,799.6 723.2,798.1 728.6,801.1 734.0,799.6 739.4,801.1 744.8,802.5 750.2,801.1 755.6,802.5 760.9,802.5 766.3,804.0 771.7,804.0 777.1,804.0 782.5,804.0 787.9,802.5 793.3,804.0 798.7,804.0 804.1,804.0 809.4,804.0 814.8,804.0 820.2,804.0 825.6,804.0 831.0,804.0 836.4,804.0 841.8,804.0 847.2,804.0 852.6,802.5 857.9,804.0 863.3,798.4 868.7,804.0 874.1,804.0 879.5,804.0 884.9,804.0 890.3,804.0 895.7,800.3 901.0,804.0 906.4,804.0 911.8,804.0 917.2,804.0 922.6,804.0 928.0,804.0 933.4,804.0 938.8,804.0 944.2,804.0 949.5,804.0 954.9,804.0 960.3,804.0 965.7,804.0 971.1,804.0 976.5,804.0 981.9,804.0 987.3,804.0 992.7,804.0 998.0,804.0 1003.4,804.0 1008.8,804.0 1014.2,804.0 1019.6,804.0 1025.0,804.0 1030.4,804.0 1035.8,804.0 1041.1,804.0 1046.5,804.0 1051.9,804.0 1057.3,804.0 1062.7,804.0 1068.1,804.0 1073.5,804.0 1078.9,804.0 1084.3,804.0 1089.6,804.0 1095.0,804.0 1100.4,804.0 1105.8,804.0 1111.2,804.0 1116.6,804.0 1122.0,804.0 1127.4,804.0 1132.8,804.0 1138.1,804.0 1143.5,804.0 1148.9,804.0 1154.3,804.0 1159.7,804.0 1165.1,804.0 1170.5,804.0 1175.9,804.0 1181.2,804.0 1186.6,804.0 1192.0,804.0 1197.4,804.0 1202.8,804.0 1208.2,804.0 1213.6,804.0 1219.0,804.0 1224.4,804.0 1229.7,804.0 1235.1,804.0 1240.5,804.0 1245.9,804.0 1251.3,804.0"/>
<polyline stroke="#8c564b" points="179.0,802.5 184.4,804.0 189.8,801.1 195.2,802.5 200.5,802.5 205.9,801.1 211.3,799.6 216.7,795.2 222.1,798.1 227.5,789.3 232.9,784.8 238.3,773.5 243.7,778.9 249.0,781.9 254.4,776.0 259.8,767.2 265.2,757.6 270.6,752.4 276.0,748.6 281.4,730.3 286.8,711.4 292.1,706.9 297.5,696.7 302.9,693.5 308.3,652.6 313.7,622.0 319.1,643.3 324.5,564.2 329.9,564.2 335.3,532.1 340.6,497.9 346.0,477.5 351.4,389.1 356.8,373.6 362.2,355.2 367.6,279.3 373.0,302.9 378.4,238.8 383.8,225.2 389.1,214.4 394.5,206.0 399.9,193.8 405.3,178.3 410.7,177.6 416.1,185.0 421.5,199.7 426.9,214.4 432.2,254.2 437.6,292.6 443.0,316.1 448.4,358.9 453.8,382.5 459.2,389.1 464.6,392.8 470.0,420.8 475.4,513.6 480.7,498.9 486.1,527.3 491.5,526.9 496.9,577.8 502.3,589.1 507.7,620.8 513.1,636.7 518.5,648.1 523.9,652.6 529.2,675.2 534.6,693.5 540.0,709.2 545.4,727.4 550.8,736.2 556.2,742.5 561.6,748.6 567.0,747.1 572.3,753.2 577.7,763.6 583.1,757.6 588.5,763.6 593.9,765.7 599.3,774.5 604.7,781.9 610.1,782.6 615.5,783.4 620.8,784.8 626.2,786.3 631.6,790.7 637.0,792.2 642.4,795.2 647.8,796.6 653.2,798.1 658.6,799.6 664.0,799.6 669.3,801.1 674.7,801.1 680.1,802.5 685.5,802.5 690.9,804.0 696.3,802.5 701.7,802.5 707.1,802.5 712.4,804.0 717.8,804.0 723.2,802.5 728.6,804.0 734.0,802.5 739.4,804.0 744.8,804.0 750.2,804.0 755.6,802.5 760.9,804.0 766.3,804.0 771.7,804.0 777.1,802.5 782.5,802.5 787.9,804.0 793.3,804.0 798.7,804.0 804.1,804.0 809.4,804.0 814.8,804.0 820.2,804.0 825.6,804.0 831.0,804.0 836.4,804.0 841.8,804.0 847.2,804.0 852.6,804.0 857.9,804.0 863.3,804.0 868.7,804.0 874.1,804.0 879.5,804.0 884.9,804.0 890.3,804.0 895.7,804.0 901.0,804.0 906.4,804.0 911.8,804.0 917.2,804.0 922.6,804.0 928.0,804.0 933.4,804.0 938.8,804.0 944.2,804.0 949.5,804.0 954.9,804.0 960.3,804.0 965.7,804.0 971.1,804.0 976.5,804.0 981.9,804.0 987.3,804.0 992.7,804.0 998.0,804.0 1003.4,804.0 1008.8,804.0 1014.2,804.0 1019.6,804.0 1025.0,804.0 1030.4,804.0 1035.8,804.0 1041.1,804.0 1046.5,804.0 1051.9,804.0 1057.3,804.0 1062.7,804.0 1068.1,804.0 1073.5,804.0 1078.9,804.0 1084.3,804.0 1089.6,804.0 1095.0,804.0 1100.4,804.0 1105.8,804.0 1111.2,804.0 1116.6,804.0 1122.0,804.0 1127.4,804.0 1132.8,804.0 1138.1,804.0 1143.5,804.0 1148.9,804.0 1154.3,804.0 1159.7,804.0 1165.1,804.0 1170.5,804.0 1175.9,804.0 1181.2,804.0 1186.6,804.0 1192.0,804.0 1197.4,804.0 1202.8,804.0 1208.2,804.0 1213.6,804.0 1219.0,804.0 1224.4,804.0 1229.7,804.0 1235.1,804.0 1240.5,804.0 1245.9,804.0 1251.3,804.0"/>
<polyline stroke="#e377c2" points="179.0,801.1 184.4,801.1 189.8,801.1 195.2,798.1 200.5,799.6 205.9,795.2 211.3,792.2 216.7,798.1 222.1,790.7 227.5,792.2 232.9,790.7 238.3,792.2 243.7,778.9 249.0,781.9 254.4,778.9 259.8,774.5 265.2,765.7 270.6,774.5 276.0,767.2 281.4,760.7 286.8,744.0 292.1,731.8 297.5,727.4 302.9,730.3 308.3,718.5 313.7,690.5 319.1,691.1 324.5,686.5 329.9,641.9 335.3,648.1 340.6,618.6 346.0,591.8 351.4,568.8 356.8,532.8 362.2,529.9 367.6,457.6 373.0,438.9 378.4,418.6 383.8,380.1 389.1,298.5 394.5,294.0 399.9,302.9 405.3,258.7 410.7,313.2 416.1,294.0 421.5,216.2 426.9,202.6 432.2,193.8 437.6,171.7 443.0,216.2 448.4,191.3 453.8,187.9 459.2,273.4 464.6,254.2 470.0,264.6 475.4,317.6 480.7,325.0 486.1,375.5 491.5,407.5 496.9,437.0 502.3,475.3 507.7,493.3 513.1,532.8 518.5,562.3 523.9,589.1 529.2,641.3 534.6,644.8 540.0,645.7 545.4,686.5 550.8,705.2 556.2,717.0 561.6,725.9 567.0,735.0 572.3,745.5 577.7,756.1 583.1,747.1 588.5,760.7 593.9,763.6 599.3,768.2 604.7,774.5 610.1,773.0 615.5,776.0 620.8,777.5 626.2,780.4 631.6,784.8 637.0,786.3 642.4,790.9 647.8,792.4 653.2,795.5 658.6,790.9 664.0,798.4 669.3,795.5 674.7,796.9 680.1,790.9 685.5,798.4 690.9,799.1 696.3,799.9 701.7,795.5 707.1,796.9 712.4,798.4 717.8,799.9 723.2,800.6 728.6,801.1 734.0,802.5 739.4,801.1 744.8,802.5 750.2,804.0 755.6,804.0 760.9,802.5 766.3,802.5 771.7,804.0 777.1,804.0 782.5,804.0 787.9,804.0 793.3,802.5 798.7,804.0 804.1,804.0 809.4,804.0 814.8,804.0 820.2,804.0 825.6,804.0 831.0,804.0 836.4,804.0 841.8,804.0 847.2,804.0 852.6,804.0 857.9,804.0 863.3,804.0 868.7,804.0 874.1,804.0 879.5,804.0 884.9,804.0 890.3,804.0 895.7,804.0 901.0,804.0 906.4,804.0 911.8,804.0 917.2,804.0 922.6,804.0 928.0,804.0 933.4,804.0 938.8,804.0 944.2,804.0 949.5,804.0 954.9,804.0 960.3,804.0 965.7,804.0 971.1,804.0 976.5,804.0 981.9,804.0 987.3,804.0 992.7,804.0 998.0,804.0 1003.4,804.0 1008.8,804.0 1014.2,804.0 1019.6,804.0 1025.0,804.0 1030.4,804.0 1035.8,804.0 1041.1,804.0 1046.5,804.0 1051.9,804.0 1057.3,804.0 1062.7,804.0 1068.1,804.0 1073.5,804.0 1078.9,804.0 1084.3,804.0 1089.6,804.0 1095.0,804.0 1100.4,804.0 1105.8,804.0 1111.2,804.0 1116.6,804.0 1122.0,804.0 1127.4,804.0 1132.8,804.0 1138.1,804.0 1143.5,804.0 1148.9,804.0 1154.3,804.0 1159.7,804.0 1165.1,804.0 1170.5,804.0 1175.9,804.0 1181.2,804.0 1186.6,804.0 1192.0,804.0 1197.4,804.0 1202.8,804.0 1208.2,804.0 1213.6,804.0 1219.0,804.0 1224.4,804.0 1229.7,804.0 1235.1,804.0 1240.5,804.0 1245.9,804.0 1251.3,804.0"/>
<polyline stroke="#7f7f7f" points="179.0,792.2 184.4,796.2 189.8,798.4 195.2,787.8 200.5,784.8 205.9,789.3 211.3,781.9 216.7,784.1 222.1,778.9 227.5,768.2 232.9,767.4 238.3,761.3 243.7,760.7 249.0,738.0 254.4,748.0 259.8,721.6 265.2,737.7 270.6,696.7 276.0,702.3 281.4,680.9 286.8,666.2 292.1,634.5 297.5,650.3 302.9,583.5 308.3,577.0 313.7,533.5 319.1,487.1 324.5,452.6 329.9,407.5 335.3,366.4 340.6,357.4 346.0,295.5 351.4,238.8 356.8,161.4 362.2,216.2 367.6,249.1 373.0,214.4 378.4,185.6 383.8,185.0 389.1,170.8 394.5,106.8 399.9,106.8 405.3,154.0 410.7,158.4 416.1,255.7 421.5,311.7 426.9,283.7 432.2,335.3 437.6,375.1 443.0,405.0 448.4,448.1 453.8,477.5 459.2,481.2 464.6,537.2 470.0,573.2 475.4,573.2 480.7,602.7 486.1,630.1 491.5,677.5 496.9,683.1 502.3,693.5 507.7,702.3 513.1,738.7 518.5,736.3 523.9,734.1 529.2,745.0 534.6,750.9 540.0,757.6 545.4,777.5 550.8,766.7 556.2,771.6 561.6,781.9 567.0,782.6 572.3,781.9 577.7,792.2 583.1,792.2 588.5,791.6 593.9,792.2 599.3,795.5 604.7,798.4 610.1,793.8 615.5,798.4 620.8,803.0 626.2,803.0 631.6,802.2 637.0,801.5 642.4,800.6 647.8,803.0 653.2,803.7 658.6,804.0 664.0,804.0 669.3,804.0 674.7,804.0 680.1,804.0 685.5,804.0 690.9,804.0 696.3,804.0 701.7,804.0 707.1,804.0 712.4,804.0 717.8,804.0 723.2,804.0 728.6,804.0 734.0,804.0 739.4,804.0 744.8,804.0 750.2,804.0 755.6,804.0 760.9,804.0 766.3,804.0 771.7,804.0 777.1,804.0 782.5,804.0 787.9,804.0 793.3,804.0 798.7,804.0 804.1,804.0 809.4,804.0 814.8,804.0 820.2,804.0 825.6,804.0 831.0,804.0 836.4,804.0 841.8,804.0 847.2,804.0 852.6,804.0 857.9,804.0 863.3,804.0 868.7,804.0 874.1,804.0 879.5,804.0 884.9,804.0 890.3,804.0 895.7,804.0 901.0,804.0 906.4,804.0 911.8,804.0 917.2,804.0 922.6,804.0 928.0,804.0 933.4,804.0 938.8,804.0 944.2,804.0 949.5,804.0 954.9,804.0 960.3,804.0 965.7,804.0 971.1,804.0 976.5,804.0 981.9,804.0 987.3,804.0 992.7,804.0 998.0,804.0 1003.4,804.0 1008.8,804.0 1014.2,804.0 1019.6,804.0 1025.0,804.0 1030.4,804.0 1035.8,804.0 1041.1,804.0 1046.5,804.0 1051.9,804.0 1057.3,804.0 1062.7,804.0 1068.1,804.0 1073.5,804.0 1078.9,804.0 1084.3,804.0 1089.6,804.0 1095.0,804.0 1100.4,804.0 1105.8,804.0 1111.2,804.0 1116.6,804.0 1122.0,804.0 1127.4,804.0 1132.8,804.0 1138.1,804.0 1143.5,804.0 1148.9,804.0 1154.3,804.0 1159.7,804.0 1165.1,804.0 1170.5,804.0 1175.9,804.0 1181.2,804.0 1186.6,804.0 1192.0,804.0 1197.4,804.0 1202.8,804.0 1208.2,804.0 1213.6,804.0 1219.0,804.0 1224.4,804.0 1229.7,804.0 1235.1,804.0 1240.5,804.0 1245.9,804.0 1251.3,804.0"/>
<polyline stroke="#bcbd22" points="179.0,804.0 184.4,804.0 189.8,802.5 195.2,804.0 200.5,801.1 205.9,802.5 211.3,802.5 216.7,799.6 222.1,801.1 227.5,798.1 232.9,796.6 238.3,795.2 243.7,789.3 249.0,786.3 254.4,782.6 259.8,781.9 265.2,787.1 270.6,792.2 276.0,783.4 281.4,776.0 286.8,774.5 292.1,771.6 297.5,767.2 302.9,776.0 308.3,752.4 313.7,761.3 319.1,750.1 324.5,756.1 329.9,748.6 335.3,741.1 340.6,718.5 346.0,704.7 351.4,706.9 356.8,697.9 362.2,699.4 367.6,667.2 373.0,686.5 378.4,664.0 383.8,643.3 389.1,616.8 394.5,610.9 399.9,589.1 405.3,553.4 410.7,516.6 416.1,470.9 421.5,504.8 426.9,385.7 432.2,403.1 437.6,359.6 443.0,320.6 448.4,297.0 453.8,310.2 459.2,274.9 464.6,276.3 470.0,180.5 475.4,202.6 480.7,174.6 486.1,220.3 491.5,234.3 496.9,207.1 502.3,270.4 507.7,288.9 513.1,318.2 518.5,375.5 523.9,442.9 529.2,442.9 534.6,419.8 540.0,498.9 545.4,468.4 550.8,521.0 556.2,546.1 561.6,556.4 567.0,587.9 572.3,589.1 577.7,600.6 583.1,632.1 588.5,657.1 593.9,668.4 599.3,677.5 604.7,682.0 610.1,693.5 615.5,700.8 620.8,705.2 626.2,728.8 631.6,748.6 637.0,747.1 642.4,730.3 647.8,736.5 653.2,750.1 658.6,759.2 664.0,768.2 669.3,771.6 674.7,773.0 680.1,774.5 685.5,786.3 690.9,776.0 696.3,781.9 701.7,784.8 707.1,783.4 712.4,787.8 717.8,793.7 723.2,802.5 728.6,798.8 734.0,795.5 739.4,795.2 744.8,799.6 750.2,802.5 755.6,801.3 760.9,802.5 766.3,803.3 771.7,804.0 777.1,801.3 782.5,800.8 787.9,801.9 793.3,804.0 798.7,801.3 804.1,802.5 809.4,803.3 814.8,804.0 820.2,802.5 825.6,801.9 831.0,802.5 836.4,804.0 841.8,803.3 847.2,804.0 852.6,804.0 857.9,804.0 863.3,804.0 868.7,804.0 874.1,804.0 879.5,804.0 884.9,804.0 890.3,804.0 895.7,804.0 901.0,804.0 906.4,804.0 911.8,804.0 917.2,804.0 922.6,804.0 928.0,804.0 933.4,804.0 938.8,804.0 944.2,804.0 949.5,804.0 954.9,804.0 960.3,804.0 965.7,804.0 971.1,804.0 976.5,804.0 981.9,804.0 987.3,804.0 992.7,804.0 998.0,804.0 1003.4,804.0 1008.8,804.0 1014.2,804.0 1019.6,804.0 1025.0,804.0 1030.4,804.0 1035.8,804.0 1041.1,804.0 1046.5,804.0 1051.9,804.0 1057.3,804.0 1062.7,804.0 1068.1,804.0 1073.5,804.0 1078.9,804.0 1084.3,804.0 1089.6,804.0 1095.0,804.0 1100.4,804.0 1105.8,804.0 1111.2,804.0 1116.6,804.0 1122.0,804.0 1127.4,804.0 1132.8,804.0 1138.1,804.0 1143.5,804.0 1148.9,804.0 1154.3,804.0 1159.7,804.0 1165.1,804.0 1170.5,804.0 1175.9,804.0 1181.2,804.0 1186.6,804.0 1192.0,804.0 1197.4,804.0 1202.8,804.0 1208.2,804.0 1213.6,804.0 1219.0,804.0 1224.4,804.0 1229.7,804.0 1235.1,804.0 1240.5,804.0 1245.9,804.0 1251.3,804.0"/>
<polyline stroke="#17becf" points="179.0,802.5 184.4,801.1 189.8,802.5 195.2,799.6 200.5,802.5 205.9,798.1 211.3,799.6 216.7,804.0 222.1,801.1 227.5,799.6 232.9,802.5 238.3,801.1 243.7,799.6 249.0,801.1 254.4,804.0 259.8,796.6 265.2,799.6 270.6,801.1 276.0,799.6 281.4,799.6 286.8,798.1 292.1,801.1 297.5,802.5 302.9,802.5 308.3,804.0 313.7,799.6 319.1,796.6 324.5,798.1 329.9,799.6 335.3,799.6 340.6,796.6 346.0,795.2 351.4,792.2 356.8,787.8 362.2,784.8 367.6,783.4 373.0,781.9 378.4,779.7 383.8,778.2 389.1,776.6 394.5,773.0 399.9,765.7 405.3,742.1 410.7,755.4 416.1,737.7 421.5,731.0 426.9,725.9 432.2,706.7 437.6,697.9 443.0,685.4 448.4,656.6 453.8,654.4 459.2,647.0 464.6,581.4 470.0,585.9 475.4,569.6 480.7,538.7 486.1,493.0 491.5,479.7 496.9,470.9 502.3,437.0 507.7,375.1 513.1,330.9 518.5,288.1 523.9,246.9 529.2,255.7 534.6,235.1 540.0,189.4 545.4,235.1 550.8,146.6 556.2,220.3 561.6,251.3 567.0,233.6 572.3,218.9 577.7,314.7 583.1,299.9 588.5,251.3 593.9,335.3 599.3,416.4 604.7,403.1 610.1,410.5 615.5,466.5 620.8,479.7 626.2,478.3 631.6,526.9 637.0,584.4 642.4,596.2 647.8,630.1 653.2,666.2 658.6,657.1 664.0,677.5 669.3,685.4 674.7,718.5 680.1,709.2 685.5,711.4 690.9,729.6 696.3,736.3 701.7,743.6 707.1,748.6 712.4,765.1 717.8,753.9 723.2,753.9 728.6,771.6 734.0,764.2 739.4,771.6 744.8,776.7 750.2,781.9 755.6,779.7 760.9,784.8 766.3,792.2 771.7,782.6 777.1,782.6 782.5,791.5 787.9,801.1 793.3,796.6 798.7,799.6 804.1,801.1 809.4,797.4 814.8,801.1 820.2,799.6 825.6,797.4 831.0,801.1 836.4,803.3 841.8,802.5 847.2,801.1 852.6,800.3 857.9,798.4 863.3,800.0 868.7,802.5 874.1,802.5 879.5,804.0 884.9,802.5 890.3,804.0 895.7,802.5 901.0,804.0 906.4,803.3 911.8,804.0 917.2,804.0 922.6,804.0 928.0,804.0 933.4,804.0 938.8,804.0 944.2,804.0 949.5,804.0 954.9,804.0 960.3,804.0 965.7,804.0 971.1,804.0 976.5,804.0 981.9,804.0 987.3,804.0 992.7,804.0 998.0,804.0 1003.4,804.0 1008.8,804.0 1014.2,804.0 1019.6,804.0 1025.0,804.0 1030.4,804.0 1035.8,804.0 1041.1,804.0 1046.5,804.0 1051.9,804.0 1057.3,804.0 1062.7,804.0 1068.1,804.0 1073.5,804.0 1078.9,804.0 1084.3,804.0 1089.6,804.0 1095.0,804.0 1100.4,804.0 1105.8,804.0 1111.2,804.0 1116.6,804.0 1122.0,804.0 1127.4,804.0 1132.8,804.0 1138.1,804.0 1143.5,804.0 1148.9,804.0 1154.3,804.0 1159.7,804.0 1165.1,804.0 1170.5,804.0 1175.9,804.0 1181.2,804.0 1186.6,804.0 1192.0,804.0 1197.4,804.0 1202.8,804.0 1208.2,804.0 1213.6,804.0 1219.0,804.0 1224.4,804.0 1229.7,804.0 1235.1,804.0 1240.5,804.0 1245.9,804.0 1251.3,804.0"/>
</g>
<g stroke="#000" stroke-width="2.13"><line x1="174.00" y1="839.00" x2="174.00" y2="848.33"/><line x1="308.00" y1="839.00" x2="308.00" y2="848.33"/><line x1="443.00" y1="839.00" x2="443.00" y2="848.33"/><line x1="578.00" y1="839.00" x2="578.00" y2="848.33"/><line x1="712.00" y1="839.00" x2="712.00" y2="848.33"/><line x1="847.00" y1="839.00" x2="847.00" y2="848.33"/><line x1="982.00" y1="839.00" x2="982.00" y2="848.33"/><line x1="1117.00" y1="839.00" x2="1117.00" y2="848.33"/><line x1="1251.00" y1="839.00" x2="1251.00" y2="848.33"/><line x1="115.67" y1="804.00" x2="125.00" y2="804.00"/><line x1="115.67" y1="657.00" x2="125.00" y2="657.00"/><line x1="115.67" y1="509.00" x2="125.00" y2="509.00"/><line x1="115.67" y1="362.00" x2="125.00" y2="362.00"/><line x1="115.67" y1="214.00" x2="125.00" y2="214.00"/><line x1="115.67" y1="67.00" x2="125.00" y2="67.00"/></g>
<rect x="125.00" y="58.00" width="1180.00" height="781.00" fill="none" stroke="#000" stroke-width="2.13" stroke-linejoin="miter"/>
<g font-size="26.67"><text x="174.40" y="878.90" text-anchor="middle">0</text><text x="308.31" y="878.90" text-anchor="middle">25</text><text x="443.02" y="878.90" text-anchor="middle">50</text><text x="577.74" y="878.90" text-anchor="middle">75</text><text x="712.45" y="878.90" text-anchor="middle">100</text><text x="847.16" y="878.90" text-anchor="middle">125</text><text x="981.88" y="878.90" text-anchor="middle">150</text><text x="1116.59" y="878.90" text-anchor="middle">175</text><text x="1251.30" y="878.90" text-anchor="middle">200</text><text x="106.30" y="815.00" text-anchor="end">0</text><text x="106.30" y="667.61" text-anchor="end">100</text><text x="106.30" y="520.22" text-anchor="end">200</text><text x="106.30" y="372.83" text-anchor="end">300</text><text x="106.30" y="225.44" text-anchor="end">400</text><text x="106.30" y="78.05" text-anchor="end">500</text><text x="715.00" y="915.90" text-anchor="middle">day</text><text transform="translate(38.50 450.20) rotate(-90)" text-anchor="middle">S-&gt;I Events</text></g>
<text x="715.00" y="42.40" text-anchor="middle" font-size="32.00">Graph of 100 Simulation Results</text>
</svg></body></html>
